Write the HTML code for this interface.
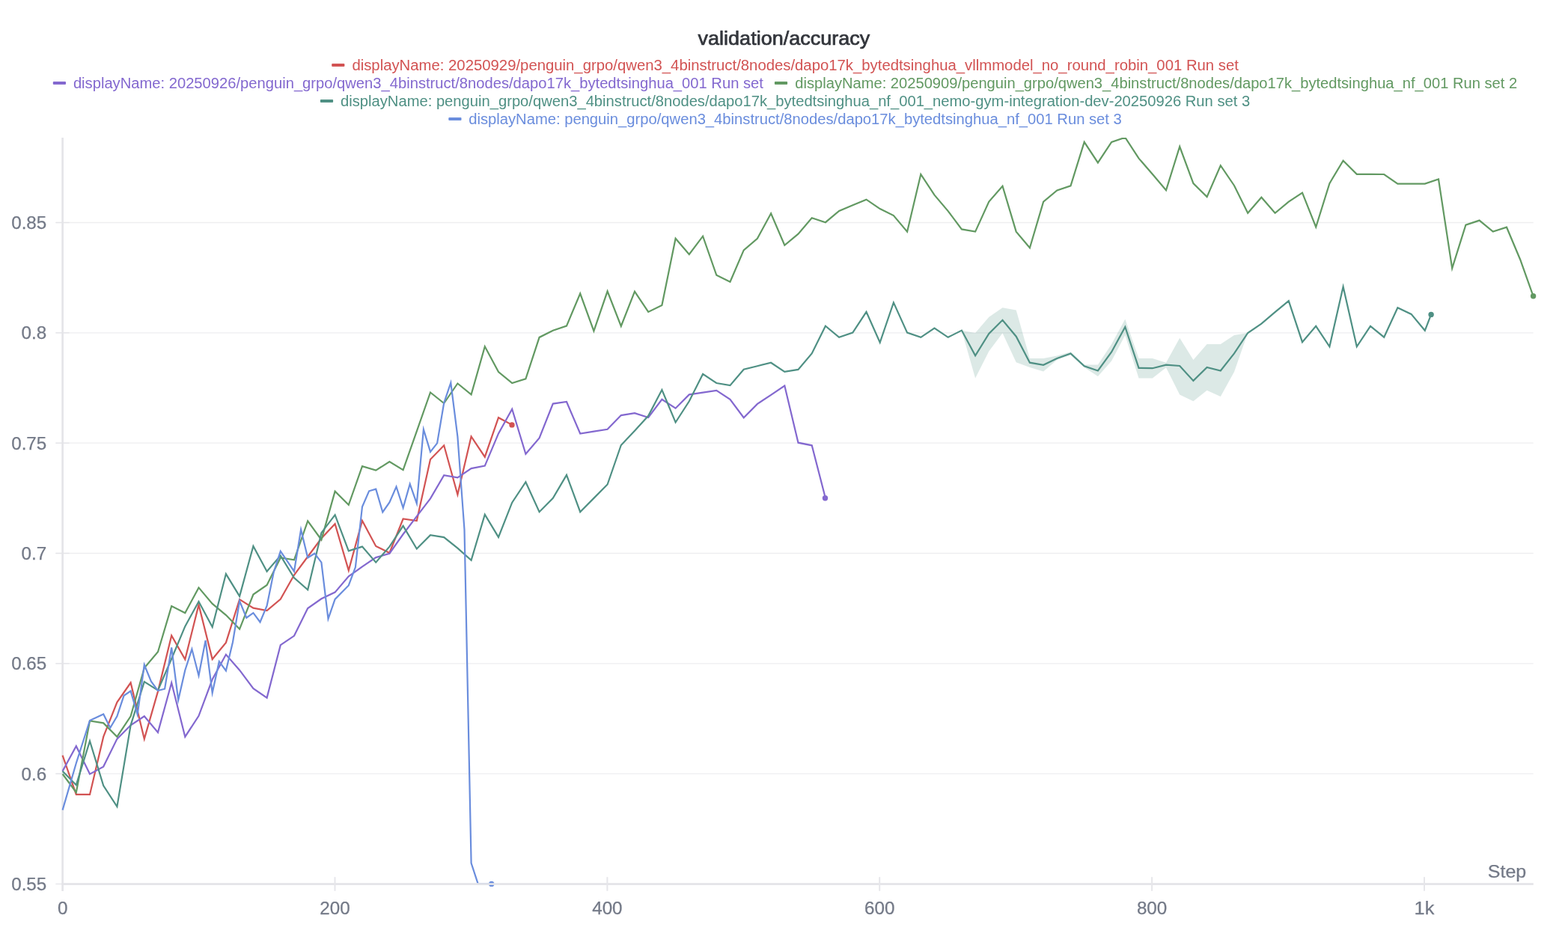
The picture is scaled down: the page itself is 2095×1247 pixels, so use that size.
<!DOCTYPE html>
<html lang="en"><head><meta charset="utf-8"><title>validation/accuracy</title>
<style>
html,body{margin:0;padding:0;background:#fff;}
body{width:2095px;height:1247px;overflow:hidden;font-family:"Liberation Sans",sans-serif;}
svg{display:block;position:absolute;left:0;top:0;}
text{font-family:"Liberation Sans",sans-serif;}
.lg{font-size:19.5px;}
.tk{font-size:23.5px;fill:#737987;stroke:#737987;stroke-width:0.25px;}
.ln{fill:none;stroke-width:2.2;stroke-linejoin:miter;stroke-miterlimit:6;stroke-linecap:butt;}
</style></head><body>
<svg width="2095" height="1247" viewBox="0 0 2095 1247">
<rect width="2095" height="1247" fill="#fff"/>
<defs><clipPath id="plot"><rect x="80" y="183.9" width="1975" height="1000.5"/></clipPath></defs>

<g stroke="#eeeef0" stroke-width="1.3">
<line x1="74.5" x2="2048.7" y1="1034.2" y2="1034.2"/>
<line x1="74.5" x2="2048.7" y1="886.8" y2="886.8"/>
<line x1="74.5" x2="2048.7" y1="739.5" y2="739.5"/>
<line x1="74.5" x2="2048.7" y1="592.2" y2="592.2"/>
<line x1="74.5" x2="2048.7" y1="444.8" y2="444.8"/>
<line x1="74.5" x2="2048.7" y1="297.5" y2="297.5"/>
</g>
<g stroke="#e4e4e8" stroke-width="1.3">
<line x1="74.3" x2="82.3" y1="1181.5" y2="1181.5"/>
<line x1="74.3" x2="92.6" y1="1034.2" y2="1034.2"/>
<line x1="74.3" x2="92.6" y1="886.8" y2="886.8"/>
<line x1="74.3" x2="92.6" y1="739.5" y2="739.5"/>
<line x1="74.3" x2="92.6" y1="592.2" y2="592.2"/>
<line x1="74.3" x2="92.6" y1="444.8" y2="444.8"/>
<line x1="74.3" x2="92.6" y1="297.5" y2="297.5"/>
</g>
<rect x="82.3" y="184" width="2.6" height="1007" fill="#e4e4e8"/>
<g clip-path="url(#plot)">
<path d="M1284.9,441.8 L1303.1,444.9 L1321.3,423.7 L1339.5,411.3 L1357.7,414.4 L1375.9,478.9 L1394.1,478.9 L1412.3,475.6 L1430.5,470.2 L1448.7,487.6 L1466.9,487.6 L1485.1,460.1 L1503.3,426.5 L1521.5,478.9 L1539.8,478.9 L1558,484.7 L1576.2,451.7 L1594.4,481.1 L1612.6,460.1 L1630.8,460.1 L1649,447.9 L1667.2,445 L1667.2,445 L1649,496.9 L1630.8,530.1 L1612.6,521.8 L1594.4,536.2 L1576.2,527.5 L1558,491.2 L1539.8,505.6 L1521.5,505.6 L1503.3,447.9 L1485.1,482.5 L1466.9,503 L1448.7,490.9 L1430.5,474.6 L1412.3,481.1 L1394.1,496.6 L1375.9,490.9 L1357.7,484.2 L1339.5,445.3 L1321.3,469.6 L1303.1,505.6 L1284.9,441.8Z" fill="#4f9084" fill-opacity="0.2"/>
<path class="ln" stroke="#d25353" d="M83.6,1009.7 L101.8,1061.9 L120,1061.9 L138.2,984.7 L156.4,938.5 L174.6,912.5 L192.8,987.6 L211,924.1 L229.2,849.5 L247.3,881.3 L265.5,808.4 L283.7,881 L301.9,858.9 L320.1,801.1 L338.4,812.7 L356.6,816 L374.8,800.9 L393,768.5 L411.2,744 L429.4,719.5 L447.6,700.2 L465.8,762.4 L484,696 L502.2,729.9 L520.4,738.9 L538.6,693.5 L556.8,696 L575,614.1 L593.2,595.3 L611.4,661.1 L629.6,583.4 L647.8,610.7 L666,558.2 L684.2,567.9"/>
<path class="ln" stroke="#8368cf" d="M83.6,1030.6 L101.8,997.2 L120,1034.6 L138.2,1024.6 L156.4,987.6 L174.6,969.3 L192.8,957.3 L211,978.9 L229.2,912.5 L247.3,984.7 L265.5,956.8 L283.7,908 L301.9,874.8 L320.1,895.7 L338.4,920.2 L356.6,932.6 L374.8,862.2 L393,849.8 L411.2,813.1 L429.4,800.3 L447.6,791.6 L465.8,770.4 L484,757.4 L502.2,745.1 L520.4,739.7 L538.6,714 L556.8,690.2 L575,666.4 L593.2,635.1 L611.4,638.4 L629.6,626.1 L647.8,622.6 L666,579.4 L684.2,546.8 L702.4,606.8 L720.6,585.4 L738.8,539.6 L757,537 L775.2,579.5 L793.4,576.7 L811.6,573.8 L829.8,555.1 L848,552.2 L866.2,558 L884.4,533.8 L902.6,545.7 L920.8,527.4 L939.1,524.6 L957.3,521.9 L975.5,533.9 L993.7,558.2 L1011.9,539.9 L1030.1,527.8 L1048.3,515.6 L1066.5,591.7 L1084.7,595.3 L1102.9,665.7"/>
<path class="ln" stroke="#629962" d="M83.6,1034.5 L101.8,1059 L120,963.5 L138.2,966.4 L156.4,984.7 L174.6,957.3 L192.8,892.8 L211,871.2 L229.2,810.1 L247.3,819.2 L265.5,785.4 L283.7,806.9 L301.9,822.1 L320.1,840.8 L338.4,794.5 L356.6,782 L374.8,745.4 L393,748.3 L411.2,696.4 L429.4,721.4 L447.6,656.6 L465.8,674.8 L484,623.1 L502.2,628.6 L520.4,617.1 L538.6,628.1 L556.8,576.4 L575,524.5 L593.2,539 L611.4,512.5 L629.6,527.4 L647.8,463.1 L666,497 L684.2,512 L702.4,506.3 L720.6,450.9 L738.8,441.7 L757,435.6 L775.2,392.3 L793.4,442.4 L811.6,389.3 L829.8,435.9 L848,389.7 L866.2,416.9 L884.4,408 L902.6,318.7 L920.8,339.9 L939.1,315.7 L957.3,367.8 L975.5,376.7 L993.7,334.4 L1011.9,318.8 L1030.1,285.2 L1048.3,327.8 L1066.5,312.6 L1084.7,291.2 L1102.9,297.2 L1121.1,282 L1139.3,274.3 L1157.5,266.7 L1175.7,279.1 L1193.9,288.1 L1212.1,309.7 L1230.3,232.9 L1248.5,260.6 L1266.7,282.1 L1284.9,306.4 L1303.1,309.6 L1321.3,269.6 L1339.5,248.7 L1357.7,309.6 L1375.9,331.3 L1394.1,269.6 L1412.3,254.5 L1430.5,248.4 L1448.7,189.9 L1466.9,217.4 L1485.1,189.9 L1503.3,183.7 L1521.5,211.6 L1539.8,232.8 L1558,254.3 L1576.2,196 L1594.4,245.1 L1612.6,263.1 L1630.8,221.2 L1649,248 L1667.2,284.8 L1685.4,263.8 L1703.6,284.8 L1721.8,269.6 L1740,257.6 L1758.2,303.5 L1776.4,245.1 L1794.6,214.8 L1812.8,232.9 L1831,232.9 L1849.2,233 L1867.4,245.6 L1885.6,245.6 L1903.8,245.6 L1922,239.5 L1940.2,358.6 L1958.4,300.6 L1976.6,294.6 L1994.8,309.5 L2013,303.7 L2031.2,347 L2048.6,395.8"/>
<path class="ln" stroke="#4f9084" d="M83.6,1030.8 L101.8,1049.2 L120,990.5 L138.2,1050 L156.4,1078.1 L174.6,969.3 L192.8,911.1 L211,922.6 L229.2,880.5 L247.3,837.2 L265.5,804 L283.7,838 L301.9,767.1 L320.1,796.9 L338.4,730 L356.6,763.7 L374.8,742.6 L393,772.4 L411.2,788.3 L429.4,712.2 L447.6,688.2 L465.8,736.4 L484,730.6 L502.2,751.6 L520.4,730.6 L538.6,702.9 L556.8,733.5 L575,715.2 L593.2,718.1 L611.4,732.7 L629.6,748.8 L647.8,687.6 L666,717.9 L684.2,671.7 L702.4,644.2 L720.6,684.2 L738.8,665.9 L757,634.9 L775.2,684.2 L793.4,665.9 L811.6,647.5 L829.8,595 L848,575.7 L866.2,555.8 L884.4,521.1 L902.6,564.5 L920.8,536.3 L939.1,499.9 L957.3,512 L975.5,515.1 L993.7,493.7 L1011.9,489.2 L1030.1,484.8 L1048.3,496.8 L1066.5,493.9 L1084.7,472.5 L1102.9,435.7 L1121.1,450.8 L1139.3,444.6 L1157.5,416.9 L1175.7,457.8 L1193.9,404.4 L1212.1,444.6 L1230.3,450.8 L1248.5,438.6 L1266.7,450.8 L1284.9,441.6 L1303.1,475.3 L1321.3,445.9 L1339.5,427.8 L1357.7,449.7 L1375.9,484.7 L1394.1,487.8 L1412.3,478.9 L1430.5,472.4 L1448.7,489.3 L1466.9,495.5 L1485.1,470.5 L1503.3,437 L1521.5,491.9 L1539.8,492.2 L1558,487.7 L1576.2,489 L1594.4,508.9 L1612.6,490.9 L1630.8,495.5 L1649,472.4 L1667.2,445 L1685.4,432.7 L1703.6,417.2 L1721.8,402.1 L1740,457.2 L1758.2,435.8 L1776.4,463.3 L1794.6,383.3 L1812.8,463.3 L1831,435.8 L1849.2,450.7 L1867.4,411.2 L1885.6,419.9 L1903.8,441.8 L1912.1,420.4"/>
<path class="ln" stroke="#6a8ddd" d="M83.6,1082.6 L101.8,1020 L120,963 L138.2,954.4 L147.3,972.7 L156.4,957.3 L165.5,929.8 L174.6,923.6 L183.7,954.9 L192.8,888.5 L201.9,910.6 L211,923.1 L220.1,920.7 L229.2,865.4 L238.2,935.6 L247.3,895.7 L256.4,867.6 L265.5,902.9 L274.6,856 L283.7,926 L292.8,884.2 L301.9,896.4 L311,858.2 L320.1,803.3 L329.3,825.7 L338.4,819.2 L347.5,831.5 L356.6,809.8 L365.7,764.7 L374.8,736.8 L383.9,750.1 L393,763.7 L402.1,707.9 L411.2,745.4 L420.3,739.7 L429.4,751.7 L438.5,827.1 L447.6,800.9 L465.8,782.4 L474.9,758.1 L484,677.2 L493.1,656.3 L502.2,653.7 L511.3,684.5 L520.4,671.5 L529.5,650.5 L538.6,678.7 L547.7,646.9 L556.8,672.9 L565.9,574 L575,603.9 L584.1,592.4 L593.2,538.5 L602.3,511.6 L611.4,583.7 L620.5,708 L629.6,1153.5 L638.7,1181.4 L656.9,1181.4"/>
</g>
<circle cx="684" cy="567.9" r="3.7" fill="#d25353"/>
<circle cx="1102.5" cy="665.7" r="3.7" fill="#8368cf"/>
<circle cx="2048.6" cy="395.8" r="3.7" fill="#629962"/>
<circle cx="1912.1" cy="420.4" r="3.7" fill="#4f9084"/>
<circle cx="656.7" cy="1181.4" r="3.7" fill="#6a8ddd"/>
<rect x="82.3" y="1180.2" width="1966.5" height="2.7" fill="#e4e4e8"/>
<g stroke="#e6e6ea" stroke-width="2">
<line x1="447.5" x2="447.5" y1="1172.2" y2="1190.8"/>
<line x1="811.4" x2="811.4" y1="1172.2" y2="1190.8"/>
<line x1="1175.2" x2="1175.2" y1="1172.2" y2="1190.8"/>
<line x1="1539.1" x2="1539.1" y1="1172.2" y2="1190.8"/>
<line x1="1903" x2="1903" y1="1172.2" y2="1190.8"/>
</g>
<text class="tk" x="76.9" y="1222" textLength="13.5" lengthAdjust="spacingAndGlyphs">0</text>
<text class="tk" x="427.3" y="1222" textLength="40.4" lengthAdjust="spacingAndGlyphs">200</text>
<text class="tk" x="791.2" y="1222" textLength="40.4" lengthAdjust="spacingAndGlyphs">400</text>
<text class="tk" x="1155" y="1222" textLength="40.4" lengthAdjust="spacingAndGlyphs">600</text>
<text class="tk" x="1518.9" y="1222" textLength="40.4" lengthAdjust="spacingAndGlyphs">800</text>
<text class="tk" x="1889.6" y="1222" textLength="26.8" lengthAdjust="spacingAndGlyphs">1k</text>
<text class="tk" x="15.2" y="1190.1" textLength="47.1" lengthAdjust="spacingAndGlyphs">0.55</text>
<text class="tk" x="28.6" y="1042.8" textLength="33.7" lengthAdjust="spacingAndGlyphs">0.6</text>
<text class="tk" x="15.2" y="895.4" textLength="47.1" lengthAdjust="spacingAndGlyphs">0.65</text>
<text class="tk" x="28.6" y="748.1" textLength="33.7" lengthAdjust="spacingAndGlyphs">0.7</text>
<text class="tk" x="15.2" y="600.8" textLength="47.1" lengthAdjust="spacingAndGlyphs">0.75</text>
<text class="tk" x="28.6" y="453.4" textLength="33.7" lengthAdjust="spacingAndGlyphs">0.8</text>
<text class="tk" x="15.2" y="306.1" textLength="47.1" lengthAdjust="spacingAndGlyphs">0.85</text>
<text class="tk" x="1987.8" y="1173" textLength="51.5" lengthAdjust="spacingAndGlyphs">Step</text>
<text x="932.6" y="59.7" font-size="25" fill="#33363c" stroke="#33363c" stroke-width="0.7" stroke-linejoin="round" textLength="229.6" lengthAdjust="spacingAndGlyphs">validation/accuracy</text>
<rect x="443.2" y="85" width="17.2" height="4" rx="1" fill="#d25353"/>
<text class="lg" x="470.4" y="93.5" fill="#d25353" textLength="1184.5" lengthAdjust="spacingAndGlyphs">displayName: 20250929/penguin_grpo/qwen3_4binstruct/8nodes/dapo17k_bytedtsinghua_vllmmodel_no_round_robin_001 Run set</text>
<rect x="70.8" y="109" width="17.2" height="4" rx="1" fill="#8368cf"/>
<text class="lg" x="97.9" y="117.5" fill="#8368cf" textLength="922" lengthAdjust="spacingAndGlyphs">displayName: 20250926/penguin_grpo/qwen3_4binstruct/8nodes/dapo17k_bytedtsinghua_001 Run set</text>
<rect x="1034.9" y="109" width="17.2" height="4" rx="1" fill="#629962"/>
<text class="lg" x="1062.3" y="117.5" fill="#629962" textLength="964.8" lengthAdjust="spacingAndGlyphs">displayName: 20250909/penguin_grpo/qwen3_4binstruct/8nodes/dapo17k_bytedtsinghua_nf_001 Run set 2</text>
<rect x="427.9" y="133" width="17.2" height="4" rx="1" fill="#4f9084"/>
<text class="lg" x="455.0" y="141.5" fill="#4f9084" textLength="1215.2" lengthAdjust="spacingAndGlyphs">displayName: penguin_grpo/qwen3_4binstruct/8nodes/dapo17k_bytedtsinghua_nf_001_nemo-gym-integration-dev-20250926 Run set 3</text>
<rect x="599.3" y="157" width="17.2" height="4" rx="1" fill="#6a8ddd"/>
<text class="lg" x="626.2" y="165.5" fill="#6a8ddd" textLength="872.6" lengthAdjust="spacingAndGlyphs">displayName: penguin_grpo/qwen3_4binstruct/8nodes/dapo17k_bytedtsinghua_nf_001 Run set 3</text>
</svg></body></html>
